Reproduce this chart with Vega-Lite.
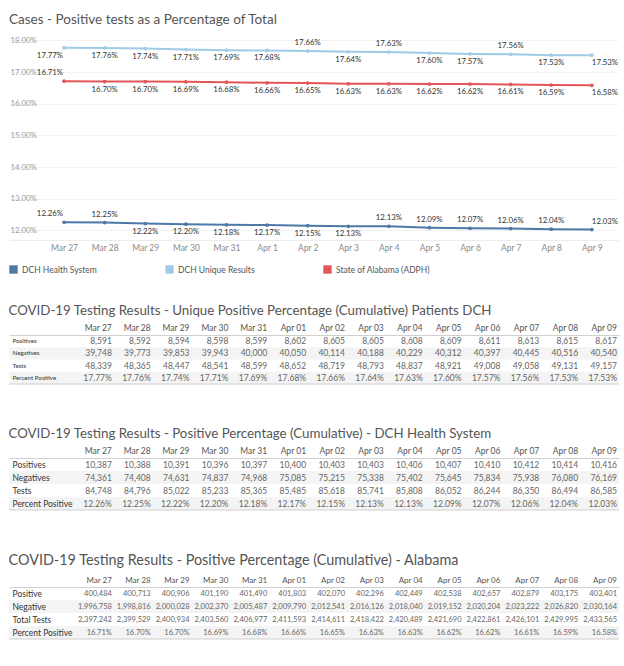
{
  "$schema": "https://vega.github.io/schema/vega-lite/v6.json",
  "padding": {"left": 8, "top": 12, "right": 0, "bottom": 0},
  "background": "white",
  "config": {
    "font": "Lato",
    "view": {"stroke": null},
    "title": {"anchor": "start", "frame": "bounds", "fontWeight": "normal", "color": "#555555", "fontSize": 13.5, "font": "Lato"},
    "axis": {"labelFont": "Lato"},
    "legend": {"labelFont": "Lato"}
  },
  "resolve": {"scale": {"color": "independent"}, "legend": {"color": "independent"}},
  "datasets": {
    "rows": [
      {"s": "DCH Unique Results", "d": "Mar 27", "Positives": 8591, "Negatives": 39748, "Tests": 48339, "Percent Positive": 0.1777},
      {"s": "DCH Unique Results", "d": "Mar 28", "Positives": 8592, "Negatives": 39773, "Tests": 48365, "Percent Positive": 0.1776},
      {"s": "DCH Unique Results", "d": "Mar 29", "Positives": 8594, "Negatives": 39853, "Tests": 48447, "Percent Positive": 0.1774},
      {"s": "DCH Unique Results", "d": "Mar 30", "Positives": 8598, "Negatives": 39943, "Tests": 48541, "Percent Positive": 0.1771},
      {"s": "DCH Unique Results", "d": "Mar 31", "Positives": 8599, "Negatives": 40000, "Tests": 48599, "Percent Positive": 0.1769},
      {"s": "DCH Unique Results", "d": "Apr 1", "Positives": 8602, "Negatives": 40050, "Tests": 48652, "Percent Positive": 0.1768},
      {"s": "DCH Unique Results", "d": "Apr 2", "Positives": 8605, "Negatives": 40114, "Tests": 48719, "Percent Positive": 0.1766},
      {"s": "DCH Unique Results", "d": "Apr 3", "Positives": 8605, "Negatives": 40188, "Tests": 48793, "Percent Positive": 0.1764},
      {"s": "DCH Unique Results", "d": "Apr 4", "Positives": 8608, "Negatives": 40229, "Tests": 48837, "Percent Positive": 0.1763},
      {"s": "DCH Unique Results", "d": "Apr 5", "Positives": 8609, "Negatives": 40312, "Tests": 48921, "Percent Positive": 0.1760},
      {"s": "DCH Unique Results", "d": "Apr 6", "Positives": 8611, "Negatives": 40397, "Tests": 49008, "Percent Positive": 0.1757},
      {"s": "DCH Unique Results", "d": "Apr 7", "Positives": 8613, "Negatives": 40445, "Tests": 49058, "Percent Positive": 0.1756},
      {"s": "DCH Unique Results", "d": "Apr 8", "Positives": 8615, "Negatives": 40516, "Tests": 49131, "Percent Positive": 0.1753},
      {"s": "DCH Unique Results", "d": "Apr 9", "Positives": 8617, "Negatives": 40540, "Tests": 49157, "Percent Positive": 0.1753},
      {"s": "DCH Health System", "d": "Mar 27", "Positives": 10387, "Negatives": 74361, "Tests": 84748, "Percent Positive": 0.1226},
      {"s": "DCH Health System", "d": "Mar 28", "Positives": 10388, "Negatives": 74408, "Tests": 84796, "Percent Positive": 0.1225},
      {"s": "DCH Health System", "d": "Mar 29", "Positives": 10391, "Negatives": 74631, "Tests": 85022, "Percent Positive": 0.1222},
      {"s": "DCH Health System", "d": "Mar 30", "Positives": 10396, "Negatives": 74837, "Tests": 85233, "Percent Positive": 0.1220},
      {"s": "DCH Health System", "d": "Mar 31", "Positives": 10397, "Negatives": 74968, "Tests": 85365, "Percent Positive": 0.1218},
      {"s": "DCH Health System", "d": "Apr 1", "Positives": 10400, "Negatives": 75085, "Tests": 85485, "Percent Positive": 0.1217},
      {"s": "DCH Health System", "d": "Apr 2", "Positives": 10403, "Negatives": 75215, "Tests": 85618, "Percent Positive": 0.1215},
      {"s": "DCH Health System", "d": "Apr 3", "Positives": 10403, "Negatives": 75338, "Tests": 85741, "Percent Positive": 0.1213},
      {"s": "DCH Health System", "d": "Apr 4", "Positives": 10406, "Negatives": 75402, "Tests": 85808, "Percent Positive": 0.1213},
      {"s": "DCH Health System", "d": "Apr 5", "Positives": 10407, "Negatives": 75645, "Tests": 86052, "Percent Positive": 0.1209},
      {"s": "DCH Health System", "d": "Apr 6", "Positives": 10410, "Negatives": 75834, "Tests": 86244, "Percent Positive": 0.1207},
      {"s": "DCH Health System", "d": "Apr 7", "Positives": 10412, "Negatives": 75938, "Tests": 86350, "Percent Positive": 0.1206},
      {"s": "DCH Health System", "d": "Apr 8", "Positives": 10414, "Negatives": 76080, "Tests": 86494, "Percent Positive": 0.1204},
      {"s": "DCH Health System", "d": "Apr 9", "Positives": 10416, "Negatives": 76169, "Tests": 86585, "Percent Positive": 0.1203},
      {"s": "State of Alabama (ADPH)", "d": "Mar 27", "Positives": 400484, "Negatives": 1996758, "Tests": 2397242, "Percent Positive": 0.1671},
      {"s": "State of Alabama (ADPH)", "d": "Mar 28", "Positives": 400713, "Negatives": 1998816, "Tests": 2399529, "Percent Positive": 0.1670},
      {"s": "State of Alabama (ADPH)", "d": "Mar 29", "Positives": 400906, "Negatives": 2000028, "Tests": 2400934, "Percent Positive": 0.1670},
      {"s": "State of Alabama (ADPH)", "d": "Mar 30", "Positives": 401190, "Negatives": 2002370, "Tests": 2403560, "Percent Positive": 0.1669},
      {"s": "State of Alabama (ADPH)", "d": "Mar 31", "Positives": 401490, "Negatives": 2005487, "Tests": 2406977, "Percent Positive": 0.1668},
      {"s": "State of Alabama (ADPH)", "d": "Apr 1", "Positives": 401803, "Negatives": 2009790, "Tests": 2411593, "Percent Positive": 0.1666},
      {"s": "State of Alabama (ADPH)", "d": "Apr 2", "Positives": 402070, "Negatives": 2012541, "Tests": 2414611, "Percent Positive": 0.1665},
      {"s": "State of Alabama (ADPH)", "d": "Apr 3", "Positives": 402296, "Negatives": 2016126, "Tests": 2418422, "Percent Positive": 0.1663},
      {"s": "State of Alabama (ADPH)", "d": "Apr 4", "Positives": 402449, "Negatives": 2018040, "Tests": 2420489, "Percent Positive": 0.1663},
      {"s": "State of Alabama (ADPH)", "d": "Apr 5", "Positives": 402538, "Negatives": 2019152, "Tests": 2421690, "Percent Positive": 0.1662},
      {"s": "State of Alabama (ADPH)", "d": "Apr 6", "Positives": 402657, "Negatives": 2020204, "Tests": 2422861, "Percent Positive": 0.1662},
      {"s": "State of Alabama (ADPH)", "d": "Apr 7", "Positives": 402879, "Negatives": 2023222, "Tests": 2426101, "Percent Positive": 0.1661},
      {"s": "State of Alabama (ADPH)", "d": "Apr 8", "Positives": 403175, "Negatives": 2026820, "Tests": 2429995, "Percent Positive": 0.1659},
      {"s": "State of Alabama (ADPH)", "d": "Apr 9", "Positives": 403401, "Negatives": 2030164, "Tests": 2433565, "Percent Positive": 0.1658}
    ]
  },
  "data": {"name": "rows"},
  "spacing": 29,
  "vconcat": [
    {
      "title": {"text": "Cases - Positive tests as a Percentage of Total", "offset": 8},
      "width": 609,
      "height": 206,
      "encoding": {
        "x": {
          "field": "d", "type": "ordinal",
          "sort": ["Mar 27","Mar 28","Mar 29","Mar 30","Mar 31","Apr 1","Apr 2","Apr 3","Apr 4","Apr 5","Apr 6","Apr 7","Apr 8","Apr 9"],
          "scale": {"type": "point", "padding": 1.084, "align": 0.678},
          "axis": {"title": null, "labelAngle": 0, "ticks": false, "domain": true, "domainColor": "#ececec", "labelColor": "#8a8a8a", "labelFontSize": 8.5, "labelPadding": 3, "grid": false}
        },
        "y": {
          "field": "Percent Positive", "type": "quantitative",
          "scale": {"domain": [0.117, 0.182], "nice": false, "zero": false},
          "axis": {"title": null, "format": ".2%", "values": [0.12, 0.13, 0.14, 0.15, 0.16, 0.17, 0.18], "labelAlign": "left", "labelPadding": -1, "ticks": false, "domain": false, "grid": true, "gridColor": "#f2f2f2", "labelColor": "#9a9a9a", "labelFontSize": 7.8, "zindex": 0}
        },
        "color": {
          "field": "s", "type": "nominal",
          "scale": {"domain": ["DCH Health System", "DCH Unique Results", "State of Alabama (ADPH)"], "range": ["#4e79a7", "#a0cbe8", "#e15759"]},
          "legend": {"title": null, "orient": "bottom", "direction": "horizontal", "symbolType": "square", "symbolSize": 70, "symbolStrokeWidth": 0, "symbolOpacity": 1, "labelFontSize": 8.5, "labelColor": "#555555", "columnPadding": 68, "offset": 13, "symbolOffset": 0}
        }
      },
      "layer": [
        {"mark": {"type": "line", "strokeWidth": 2}},
        {"mark": {"type": "point", "filled": true, "size": 14, "opacity": 1}},
        {
          "transform": [{"filter": "datum.d != 'Mar 27' && datum.d != 'Apr 9' && ((datum.s == 'DCH Health System' && indexof(['Mar 28','Apr 4','Apr 5','Apr 6','Apr 7','Apr 8'], datum.d) >= 0) || (datum.s == 'DCH Unique Results' && indexof(['Apr 2','Apr 4','Apr 7'], datum.d) >= 0))"}],
          "mark": {"type": "text", "align": "center", "baseline": "middle", "dy": -8, "fontSize": 7.8},
          "encoding": {"text": {"field": "Percent Positive", "format": ".2%"}, "color": {"value": "#333333"}}
        },
        {
          "transform": [{"filter": "datum.d != 'Mar 27' && datum.d != 'Apr 9' && !((datum.s == 'DCH Health System' && indexof(['Mar 28','Apr 4','Apr 5','Apr 6','Apr 7','Apr 8'], datum.d) >= 0) || (datum.s == 'DCH Unique Results' && indexof(['Apr 2','Apr 4','Apr 7'], datum.d) >= 0))"}],
          "mark": {"type": "text", "align": "center", "baseline": "middle", "dy": 8, "fontSize": 7.8},
          "encoding": {"text": {"field": "Percent Positive", "format": ".2%"}, "color": {"value": "#333333"}}
        },
        {
          "transform": [{"filter": "datum.d == 'Mar 27' && datum.s != 'DCH Unique Results'"}],
          "mark": {"type": "text", "align": "right", "baseline": "middle", "dy": -8, "dx": -1, "fontSize": 7.8},
          "encoding": {"text": {"field": "Percent Positive", "format": ".2%"}, "color": {"value": "#333333"}}
        },
        {
          "transform": [{"filter": "datum.d == 'Mar 27' && datum.s == 'DCH Unique Results'"}],
          "mark": {"type": "text", "align": "right", "baseline": "middle", "dy": 8, "dx": -1, "fontSize": 7.8},
          "encoding": {"text": {"field": "Percent Positive", "format": ".2%"}, "color": {"value": "#333333"}}
        },
        {
          "transform": [{"filter": "datum.d == 'Apr 9' && datum.s == 'DCH Health System'"}],
          "mark": {"type": "text", "align": "left", "baseline": "middle", "dy": -8, "fontSize": 7.8},
          "encoding": {"text": {"field": "Percent Positive", "format": ".2%"}, "color": {"value": "#333333"}}
        },
        {
          "transform": [{"filter": "datum.d == 'Apr 9' && datum.s != 'DCH Health System'"}],
          "mark": {"type": "text", "align": "left", "baseline": "middle", "dy": 8, "fontSize": 7.8},
          "encoding": {"text": {"field": "Percent Positive", "format": ".2%"}, "color": {"value": "#333333"}}
        }
      ]
    },
    {
      "spacing": 41,
      "vconcat": [
        {
          "title": {"text": "COVID-19 Testing Results - Unique Positive Percentage (Cumulative) Patients DCH", "offset": 6, "fontSize": 13.3},
          "width": 610,
          "height": 49,
          "transform": [{"filter": "datum.s == 'DCH Unique Results'"}, {"fold": ["Positives", "Negatives", "Tests", "Percent Positive"], "as": ["m", "v"]}],
          "encoding": {
            "y": {
              "field": "m", "type": "ordinal",
              "sort": ["Positives", "Negatives", "Tests", "Percent Positive"],
              "scale": {"type": "band", "paddingInner": 0, "paddingOuter": 0},
              "axis": {"title": null, "labelAlign": "left", "labelPadding": -3, "ticks": false, "domain": false, "labelFontSize": 6.2, "labelColor": "#333333", "zindex": 1}
            }
          },
          "layer": [
            {
              "transform": [{"filter": "datum.d == 'Mar 27' && (datum.m == 'Negatives' || datum.m == 'Percent Positive')"}],
              "mark": {"type": "rect", "color": "#f4f4f4"}
            },
            {
              "transform": [{"filter": "datum.m != 'Percent Positive'"}],
              "mark": {"type": "text", "align": "right", "baseline": "middle", "dx": -2, "fontSize": 8.5, "color": "#666666"},
              "encoding": {
                "x": {"field": "d", "type": "ordinal", "sort": ["Mar 27","Mar 28","Mar 29","Mar 30","Mar 31","Apr 1","Apr 2","Apr 3","Apr 4","Apr 5","Apr 6","Apr 7","Apr 8","Apr 9"], "bandPosition": 1,
                  "scale": {"type": "band", "paddingInner": 0, "paddingOuter": 0.849, "align": 1},
                  "axis": {"orient": "top", "title": null, "labelAlign": "right", "labelOffset": 17.4, "labelAngle": 0, "ticks": false, "domain": true, "domainColor": "#d0d0d0", "labelPadding": 3, "labelFontSize": 8.5, "labelColor": "#555555", "labelExpr": "length(datum.label) == 5 ? replace(datum.label, ' ', ' 0') : datum.label"}},
                "text": {"field": "v", "format": ","}
              }
            },
            {
              "transform": [{"filter": "datum.m == 'Percent Positive'"}],
              "mark": {"type": "text", "align": "right", "baseline": "middle", "dx": -2, "fontSize": 8.5, "color": "#666666"},
              "encoding": {
                "x": {"field": "d", "type": "ordinal", "sort": ["Mar 27","Mar 28","Mar 29","Mar 30","Mar 31","Apr 1","Apr 2","Apr 3","Apr 4","Apr 5","Apr 6","Apr 7","Apr 8","Apr 9"], "bandPosition": 1},
                "text": {"field": "v", "format": ".2%"}
              }
            },
            {
              "transform": [{"filter": "datum.d == 'Mar 27' && datum.m == 'Percent Positive'"}],
              "mark": {"type": "rule", "color": "#d0d0d0", "strokeWidth": 1},
              "encoding": {"y": {"field": "m", "type": "ordinal", "sort": ["Positives", "Negatives", "Tests", "Percent Positive"], "bandPosition": 1}}
            }
          ]
        },
        {
          "title": {"text": "COVID-19 Testing Results - Positive Percentage (Cumulative) - DCH Health System", "offset": 6, "fontSize": 13.3},
          "width": 610,
          "height": 52,
          "transform": [{"filter": "datum.s == 'DCH Health System'"}, {"fold": ["Positives", "Negatives", "Tests", "Percent Positive"], "as": ["m", "v"]}],
          "encoding": {
            "y": {
              "field": "m", "type": "ordinal",
              "sort": ["Positives", "Negatives", "Tests", "Percent Positive"],
              "scale": {"type": "band", "paddingInner": 0, "paddingOuter": 0},
              "axis": {"title": null, "labelAlign": "left", "labelPadding": -3, "ticks": false, "domain": false, "labelFontSize": 8.5, "labelColor": "#333333", "zindex": 1}
            }
          },
          "layer": [
            {
              "transform": [{"filter": "datum.d == 'Mar 27' && (datum.m == 'Negatives' || datum.m == 'Percent Positive')"}],
              "mark": {"type": "rect", "color": "#f4f4f4"}
            },
            {
              "transform": [{"filter": "datum.m != 'Percent Positive'"}],
              "mark": {"type": "text", "align": "right", "baseline": "middle", "dx": -2, "fontSize": 8.5, "color": "#666666"},
              "encoding": {
                "x": {"field": "d", "type": "ordinal", "sort": ["Mar 27","Mar 28","Mar 29","Mar 30","Mar 31","Apr 1","Apr 2","Apr 3","Apr 4","Apr 5","Apr 6","Apr 7","Apr 8","Apr 9"], "bandPosition": 1,
                  "scale": {"type": "band", "paddingInner": 0, "paddingOuter": 0.849, "align": 1},
                  "axis": {"orient": "top", "title": null, "labelAlign": "right", "labelOffset": 17.4, "labelAngle": 0, "ticks": false, "domain": true, "domainColor": "#d0d0d0", "labelPadding": 3, "labelFontSize": 8.5, "labelColor": "#555555", "labelExpr": "length(datum.label) == 5 ? replace(datum.label, ' ', ' 0') : datum.label"}},
                "text": {"field": "v", "format": ","}
              }
            },
            {
              "transform": [{"filter": "datum.m == 'Percent Positive'"}],
              "mark": {"type": "text", "align": "right", "baseline": "middle", "dx": -2, "fontSize": 8.5, "color": "#666666"},
              "encoding": {
                "x": {"field": "d", "type": "ordinal", "sort": ["Mar 27","Mar 28","Mar 29","Mar 30","Mar 31","Apr 1","Apr 2","Apr 3","Apr 4","Apr 5","Apr 6","Apr 7","Apr 8","Apr 9"], "bandPosition": 1},
                "text": {"field": "v", "format": ".2%"}
              }
            },
            {
              "transform": [{"filter": "datum.d == 'Mar 27' && datum.m == 'Percent Positive'"}],
              "mark": {"type": "rule", "color": "#d0d0d0", "strokeWidth": 1},
              "encoding": {"y": {"field": "m", "type": "ordinal", "sort": ["Positives", "Negatives", "Tests", "Percent Positive"], "bandPosition": 1}}
            }
          ]
        },
        {
          "title": {"text": "COVID-19 Testing Results - Positive Percentage (Cumulative) - Alabama", "offset": 8, "fontSize": 14.4},
          "width": 610,
          "height": 52,
          "transform": [{"filter": "datum.s == 'State of Alabama (ADPH)'"}, {"fold": ["Positives", "Negatives", "Tests", "Percent Positive"], "as": ["m", "v"]}],
          "encoding": {
            "y": {
              "field": "m", "type": "ordinal",
              "sort": ["Positives", "Negatives", "Tests", "Percent Positive"],
              "scale": {"type": "band", "paddingInner": 0, "paddingOuter": 0},
              "axis": {"title": null, "labelAlign": "left", "labelPadding": -3, "ticks": false, "domain": false, "labelFontSize": 8.5, "labelColor": "#333333", "zindex": 1, "labelExpr": "datum.label == 'Positives' ? 'Positive' : datum.label == 'Negatives' ? 'Negative' : datum.label == 'Tests' ? 'Total Tests' : datum.label"}
            }
          },
          "layer": [
            {
              "transform": [{"filter": "datum.d == 'Mar 27' && (datum.m == 'Negatives' || datum.m == 'Percent Positive')"}],
              "mark": {"type": "rect", "color": "#f4f4f4"}
            },
            {
              "transform": [{"filter": "datum.m != 'Percent Positive'"}],
              "mark": {"type": "text", "align": "right", "baseline": "middle", "dx": -2, "fontSize": 7.5, "color": "#666666"},
              "encoding": {
                "x": {"field": "d", "type": "ordinal", "sort": ["Mar 27","Mar 28","Mar 29","Mar 30","Mar 31","Apr 1","Apr 2","Apr 3","Apr 4","Apr 5","Apr 6","Apr 7","Apr 8","Apr 9"], "bandPosition": 1,
                  "scale": {"type": "band", "paddingInner": 0, "paddingOuter": 0.849, "align": 1},
                  "axis": {"orient": "top", "title": null, "labelAlign": "right", "labelOffset": 17.4, "labelAngle": 0, "ticks": false, "domain": true, "domainColor": "#d0d0d0", "labelPadding": 3, "labelFontSize": 8, "labelColor": "#555555", "labelExpr": "length(datum.label) == 5 ? replace(datum.label, ' ', ' 0') : datum.label"}},
                "text": {"field": "v", "format": ","}
              }
            },
            {
              "transform": [{"filter": "datum.m == 'Percent Positive'"}],
              "mark": {"type": "text", "align": "right", "baseline": "middle", "dx": -2, "fontSize": 7.5, "color": "#666666"},
              "encoding": {
                "x": {"field": "d", "type": "ordinal", "sort": ["Mar 27","Mar 28","Mar 29","Mar 30","Mar 31","Apr 1","Apr 2","Apr 3","Apr 4","Apr 5","Apr 6","Apr 7","Apr 8","Apr 9"], "bandPosition": 1},
                "text": {"field": "v", "format": ".2%"}
              }
            },
            {
              "transform": [{"filter": "datum.d == 'Mar 27' && datum.m == 'Percent Positive'"}],
              "mark": {"type": "rule", "color": "#d0d0d0", "strokeWidth": 1},
              "encoding": {"y": {"field": "m", "type": "ordinal", "sort": ["Positives", "Negatives", "Tests", "Percent Positive"], "bandPosition": 1}}
            }
          ]
        }
      ]
    }
  ]
}
